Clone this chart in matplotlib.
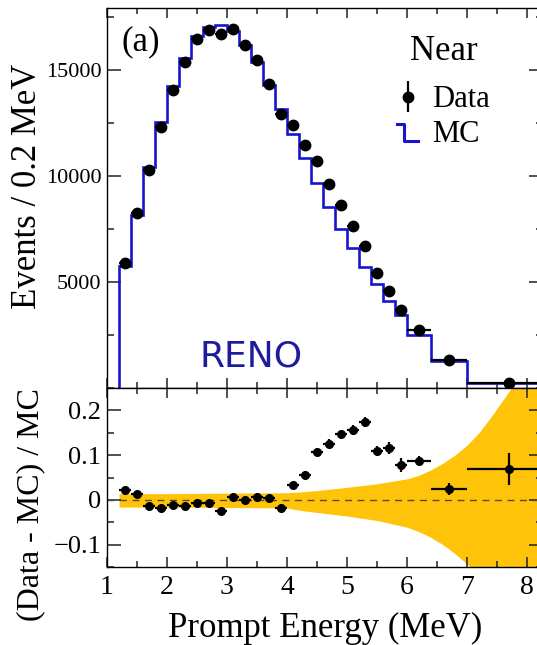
import numpy as np
import matplotlib
matplotlib.use("Agg")
import matplotlib.pyplot as plt
from matplotlib.legend_handler import HandlerBase
from matplotlib.lines import Line2D

plt.rcParams['font.family'] = ['Liberation Serif', 'DejaVu Serif']

# bin edges (MeV) and per-bin values
edges = [1.2, 1.4, 1.6, 1.8, 2.0, 2.2, 2.4, 2.6, 2.8, 3.0, 3.2, 3.4, 3.6, 3.8,
         4.0, 4.2, 4.4, 4.6, 4.8, 5.0, 5.2, 5.4, 5.6, 5.8, 6.0, 6.4, 7.0, 8.4]
centers = [1.3, 1.5, 1.7, 1.9, 2.1, 2.3, 2.5, 2.7, 2.9, 3.1, 3.3, 3.5, 3.7, 3.9,
           4.1, 4.3, 4.5, 4.7, 4.9, 5.1, 5.3, 5.5, 5.7, 5.9, 6.2, 6.7, 7.7]
halfwidth = [0.1] * 24 + [0.2, 0.3, 0.7]

data_evt = [5880, 8230, 10290, 12290, 14050, 15350, 16450, 16870, 16690, 16920,
            16180, 15460, 14330, 12920, 12370, 11430, 10680, 9630, 8610, 7620,
            6680, 5420, 4580, 3700, 2730, 1320, 235]
mc_evt = [5750, 8130, 10420, 12520, 14210, 15550, 16570, 16990, 17100, 16820,
          16180, 15350, 14280, 13160, 11980, 10830, 9650, 8550, 7500, 6590,
          5690, 4890, 4100, 3430, 2510, 1290, 220]

ratio = [0.022, 0.013, -0.013, -0.018, -0.011, -0.013, -0.007, -0.007, -0.024,
         0.006, 0.0, 0.007, 0.004, -0.018, 0.033, 0.056, 0.107, 0.126, 0.147,
         0.157, 0.174, 0.109, 0.116, 0.078, 0.087, 0.024, 0.069]
ratio_err = [0.009, 0.008, 0.007, 0.007, 0.007, 0.007, 0.007, 0.007, 0.007,
             0.007, 0.007, 0.007, 0.007, 0.008, 0.008, 0.008, 0.009, 0.009, 0.010,
             0.011, 0.011, 0.012, 0.013, 0.015, 0.010, 0.013, 0.035]

band_x = [1.2, 2.0, 3.0, 4.0, 4.25, 4.5, 5.0, 5.5, 6.0, 6.2, 6.4, 6.6, 6.8,
          7.0, 7.2, 7.4, 7.6, 7.8, 8.0, 8.4]
band_hi = [0.014, 0.014, 0.015, 0.016, 0.018, 0.021, 0.028, 0.036, 0.047,
           0.055, 0.067, 0.082, 0.100, 0.122, 0.150, 0.185, 0.223, 0.262,
           0.300, 0.380]
band_lo = [-0.016, -0.016, -0.017, -0.018, -0.024, -0.028, -0.036, -0.046,
           -0.061, -0.071, -0.084, -0.100, -0.120, -0.143, -0.170, -0.200,
           -0.235, -0.270, -0.310, -0.390]

blue = '#1616d0'
gold = '#ffc30a'


class StepHandler(HandlerBase):
    def create_artists(self, legend, orig_handle, xdescent, ydescent,
                       width, height, fontsize, trans):
        x0, y0 = -xdescent, -ydescent
        xs = [x0, x0 + 0.35 * width, x0 + 0.35 * width, x0 + width]
        ys = [y0 + 0.85 * height, y0 + 0.85 * height, y0 + 0.05 * height,
              y0 + 0.05 * height]
        ln = Line2D(xs, ys, color=orig_handle.get_color(), lw=2.2,
                    transform=trans)
        return [ln]


fig = plt.figure(figsize=(5.37, 6.45), dpi=100)
ax1 = fig.add_axes([0.1993, 0.3984, 0.812, 0.589])
ax2 = fig.add_axes([0.1993, 0.1209, 0.812, 0.2775], sharex=ax1)

# top: spectrum
ax1.stairs(mc_evt, edges, baseline=0, color=blue, lw=1.9, zorder=2)
ax1.errorbar(centers, data_evt, xerr=halfwidth, fmt='o', color='k', ms=7.5,
             lw=1.6, capsize=0, zorder=3)
ax1.set_xlim(1, 8.27)
ax1.set_ylim(0, 17900)
ax1.set_yticks([5000, 10000, 15000])
ax1.set_yticks(np.arange(2500, 17900, 2500), minor=True)
ax1.set_ylabel('Events / 0.2 MeV', fontsize=25)
ax1.yaxis.set_label_coords(-0.145, 0.53)
ax1.tick_params(axis='x', labelbottom=False)

ax1.text(0.078, 0.911, '(a)', transform=ax1.transAxes, fontsize=25,
         ha='center', va='center')
ax1.text(0.33, 0.082, 'RENO', transform=ax1.transAxes, fontsize=26,
         ha='center', va='center', color='#1c1c9c', family='DejaVu Sans')
ax1.text(0.695, 0.863, 'Near', transform=ax1.transAxes, fontsize=25,
         ha='left', va='baseline')

h_data = ax1.errorbar([], [], yerr=[], fmt='o', color='k', ms=7.5, lw=1.6)
h_mc = Line2D([], [], color=blue)
ax1.legend([h_data, h_mc], ['Data', 'MC'],
           loc='upper left', bbox_to_anchor=(0.665, 0.797),
           frameon=False, fontsize=22,
           handlelength=0.7, handletextpad=0.45, labelspacing=0.2,
           borderaxespad=0, borderpad=0,
           handler_map={Line2D: StepHandler()})

# bottom: ratio
ax2.fill_between(band_x, band_lo, band_hi, color=gold, lw=0, zorder=1)
ax2.axhline(0, color='#5a4a2a', lw=1.0, ls=(0, (5, 4)), zorder=2)
ax2.errorbar(centers, ratio, xerr=halfwidth, yerr=ratio_err, fmt='o',
             color='k', ms=5.5, lw=1.6, capsize=0, zorder=3)
ax2.set_ylim(-0.15, 0.25)
ax2.set_yticks([-0.1, 0, 0.1, 0.2])
ax2.set_yticklabels(['\u22120.1', '0', '0.1', '0.2'])
ax2.set_yticks(np.arange(-0.15, 0.26, 0.05), minor=True)
ax2.set_xticks(range(1, 9))
ax2.set_xticks(np.arange(1.5, 8.3, 0.5), minor=True)
ax2.set_ylabel('(Data - MC) / MC', fontsize=23)
ax2.yaxis.set_label_coords(-0.142, 0.35)
ax2.set_xlabel('Prompt Energy (MeV)', fontsize=25, labelpad=8)

for ax in (ax1, ax2):
    ax.tick_params(which='both', direction='in', top=True, right=True,
                   width=1.1, color='#222222')
    ax.tick_params(axis='y', which='major', length=10)
    ax.tick_params(axis='y', which='minor', length=5)
    ax.tick_params(axis='x', which='major', length=7)
    ax.tick_params(axis='x', which='minor', length=4)
    for s in ax.spines.values():
        s.set_linewidth(1.0)
ax1.tick_params(axis='y', labelsize=16, pad=4)
ax2.tick_params(axis='y', labelsize=19, pad=4)
ax2.tick_params(axis='x', labelsize=20, pad=6)

fig.savefig('out.png', dpi=100)
